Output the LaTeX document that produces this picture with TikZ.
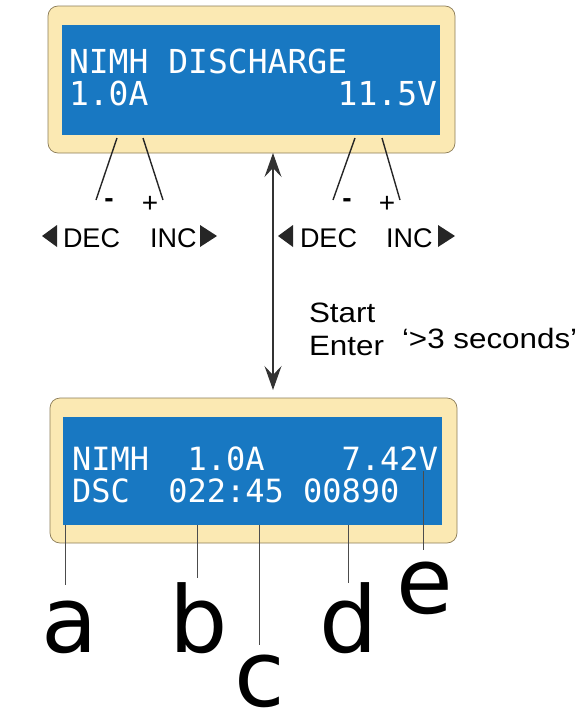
\documentclass[tikz,border=0pt]{standalone}
\usepackage{fontspec}
\setmainfont{Liberation Sans}
\newfontfamily\lcdfont{DejaVu Sans Mono}
\newfontfamily\markfont{DejaVu Sans}
\usetikzlibrary{arrows.meta}
\definecolor{lcdblue}{HTML}{1878C2}
\definecolor{bezelcream}{HTML}{FBE9B3}
\definecolor{bezeledge}{HTML}{8C7C58}

\begin{document}
\begin{tikzpicture}[
  x=1pt,y=-1pt,line width=0.8pt,
  every node/.style={inner sep=0pt,outer sep=0pt},
  bezel/.style={draw=bezeledge,fill=bezelcream,rounded corners=10pt,line width=0.7pt},
  screen/.style={fill=lcdblue},
  lcd top/.style={text=white,font=\lcdfont\fontsize{33}{33}\selectfont},
  lcd bottom/.style={text=white,font=\lcdfont\fontsize{32}{32}\selectfont},
  key lead/.style={line width=1.4pt,black!85},
  key sign/.style={font=\fontsize{28}{28}\selectfont,anchor=base},
  key label/.style={font=\fontsize{27}{27}\selectfont,anchor=base west},
  key tip/.style={fill=black!85},
  note/.style={font=\fontsize{28}{28}\selectfont,anchor=base west},
  link arrow/.style={line width=1.3pt,black!80,
    {Stealth[length=24pt,width=17pt,inset=9pt]}-{Stealth[length=24pt,width=17pt,inset=9pt]}},
  field lead/.style={line width=0.8pt,black!70},
  field label/.style={font=\markfont\fontsize{92}{92}\selectfont,anchor=base}
]
  \useasboundingbox (0,0) rectangle (580,723);

  % upper display: setup screen
  \node[bezel,minimum width=407pt,minimum height=147pt] (top frame) at (251.5,79.5) {};
  \node[screen,minimum width=378pt,minimum height=110pt] (top screen) at (251,80) {};
  \node[lcd top,anchor=base west] (top line one) at (69,73) {NIMH DISCHARGE};
  \node[lcd top,anchor=base west] (top current) at (69,105) {1.0A};
  \node[lcd top,anchor=base east] (top voltage) at (437,105) {11.5V};

  % key leads below the upper display
  \coordinate (dec a start) at (117,138);
  \coordinate (dec a end) at (96,200);
  \coordinate (inc a start) at (143,138);
  \coordinate (inc a end) at (163,200);
  \coordinate (dec b start) at (355,138);
  \coordinate (dec b end) at (333,200);
  \coordinate (inc b start) at (382,138);
  \coordinate (inc b end) at (400,200);
  \draw[key lead] (dec a start) -- (dec a end);
  \draw[key lead] (inc a start) -- (inc a end);
  \draw[key lead] (dec b start) -- (dec b end);
  \draw[key lead] (inc b start) -- (inc b end);

  \node[key sign] (minus a) at (109,207) {\textbf{-}};
  \node[key sign] (plus a) at (150,212) {+};
  \node[key sign] (minus b) at (347,207) {\textbf{-}};
  \node[key sign] (plus b) at (387,212) {+};

  \node[key label] (dec a) at (63,247) {DEC};
  \node[key label] (inc a) at (150,247) {INC};
  \node[key label] (dec b) at (300,247) {DEC};
  \node[key label] (inc b) at (386,247) {INC};
  \fill[key tip] (57,225) -- (42,236) -- (57,247) -- cycle;
  \fill[key tip] (200,225) -- (217,236) -- (200,247) -- cycle;
  \fill[key tip] (293,225) -- (278,236) -- (293,247) -- cycle;
  \fill[key tip] (438,225) -- (455,236) -- (438,247) -- cycle;

  % lower display: running screen
  \node[bezel,minimum width=407pt,minimum height=145pt] (bottom frame) at (253.5,470.5) {};
  \node[screen,minimum width=379pt,minimum height=108pt] (bottom screen) at (252.5,471) {};
  \node[lcd bottom,anchor=base west] (bottom line one) at (72,470) {NIMH~~1.0A~~~~7.42V};
  \node[lcd bottom,anchor=base west] (bottom line two) at (72,502) {DSC~~022:45~00890};

  % transition between the two screens
  \coordinate (link) at (273,0);
  \draw[link arrow] (top frame.south -| link) -- ([yshift=8pt]bottom frame.north -| link);
  \node[note] (start) at (309,322) {\scalebox{1.12}[1]{Start}};
  \node[note] (enter) at (309,355) {\scalebox{1.12}[1]{Enter}};
  \node[note] (hold) at (402,348) {\scalebox{1.12}[1]{‘>3 seconds’}};

  % field markers
  \coordinate (a end) at (65,585);
  \coordinate (b end) at (197,578);
  \coordinate (c end) at (259,645);
  \coordinate (d end) at (348,583);
  \coordinate (e start) at (423,471);
  \coordinate (e end) at (423,550);
  \draw[field lead] (bottom screen.south -| a end) -- (a end);
  \draw[field lead] (bottom screen.south -| b end) -- (b end);
  \draw[field lead] (bottom screen.south -| c end) -- (c end);
  \draw[field lead] (bottom screen.south -| d end) -- (d end);
  \draw[field lead] (e start) -- (e end);

  \node[field label] (field a) at (69.5,652) {a};
  \node[field label] (field b) at (198.5,652) {b};
  \node[field label] (field c) at (260,706) {c};
  \node[field label] (field d) at (348.5,652) {d};
  \node[field label] (field e) at (424.5,613) {e};
\end{tikzpicture}
\end{document}
